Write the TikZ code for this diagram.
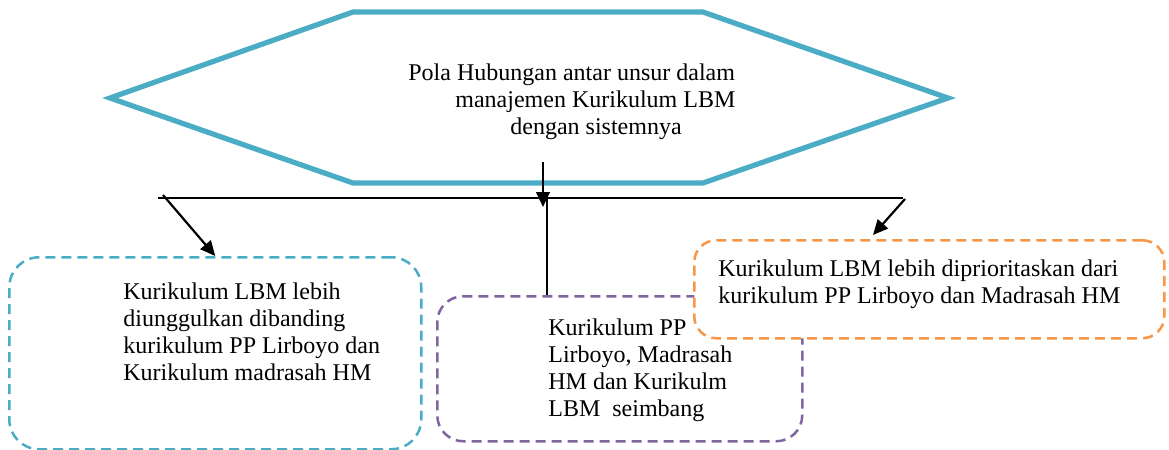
\documentclass[tikz,border=0pt]{standalone}
\usepackage{fontspec}
\setmainfont{Liberation Serif}
\usetikzlibrary{arrows.meta}
\definecolor{hexblue}{HTML}{4BACC6}
\definecolor{boxpurple}{HTML}{8064A2}
\definecolor{boxorange}{HTML}{F79646}
\begin{document}
\begin{tikzpicture}[x=0.5pt,y=-0.5pt,
  txt/.style={anchor=north west, inner sep=0pt, align=left, font=\fontsize{12}{13.5}\selectfont},
  dbox/.style={draw, line width=1.25pt, dash pattern=on 5pt off 3pt, fill=white, inner sep=0pt, anchor=north west},
  hexline/.style={draw=hexblue, line width=2.6pt, line join=miter},
  conn/.style={line width=1.1pt, -{Triangle[length=7.5pt,width=6.8pt]}},
  plain/.style={line width=0.9pt}]
\useasboundingbox (0,0) rectangle (1169,450);
% hexagon
\draw[hexline] (110,98) -- (353,12) -- (703,12) -- (948,98) -- (703,183) -- (353,183) -- cycle;
\node[txt] (title) at (408,63) {Pola Hubungan antar unsur dalam\\\hspace*{23.5pt}manajemen Kurikulum LBM\\\hspace*{51pt}dengan sistemnya};
% boxes
\node[dbox, draw=hexblue, rounded corners=15pt, minimum width=206pt, minimum height=96pt] (bb) at (8,256) {};
\node[dbox, draw=boxpurple, rounded corners=13pt, minimum width=182.5pt, minimum height=72.5pt] (pb) at (436,295) {};
\node[dbox, draw=boxorange, rounded corners=11pt, minimum width=235pt, minimum height=49pt] (ob) at (693,239) {};
\node[txt] (bt) at (123,282) {Kurikulum LBM lebih\\diunggulkan dibanding\\kurikulum PP Lirboyo dan\\Kurikulum madrasah HM};
\node[txt] (pt) at (548,318) {Kurikulum PP\\Lirboyo, Madrasah\\HM dan Kurikulm\\LBM\ \ seimbang};
\node[txt] (ot) at (718,259) {Kurikulum LBM lebih diprioritaskan dari\\kurikulum PP Lirboyo dan Madrasah HM};
% connectors
\coordinate (hexout) at (543,162);
\coordinate (hexin) at (543,207);
\coordinate (hl) at (158,198);
\coordinate (hr) at (903,198);
\coordinate (ls) at (163,195);
\coordinate (rs) at (905,199);
\coordinate (re) at (873,235);
\coordinate (ms) at (547,198);
\draw[plain] (hl) -- (hr);
\draw[conn] (hexout) -- (hexin);
\draw[line width=1.1pt] (ms) -- (ms |- pb.north);
\draw[conn] (ls) -- (bb.north);
\draw[conn] (rs) -- (re);
\end{tikzpicture}
\end{document}
